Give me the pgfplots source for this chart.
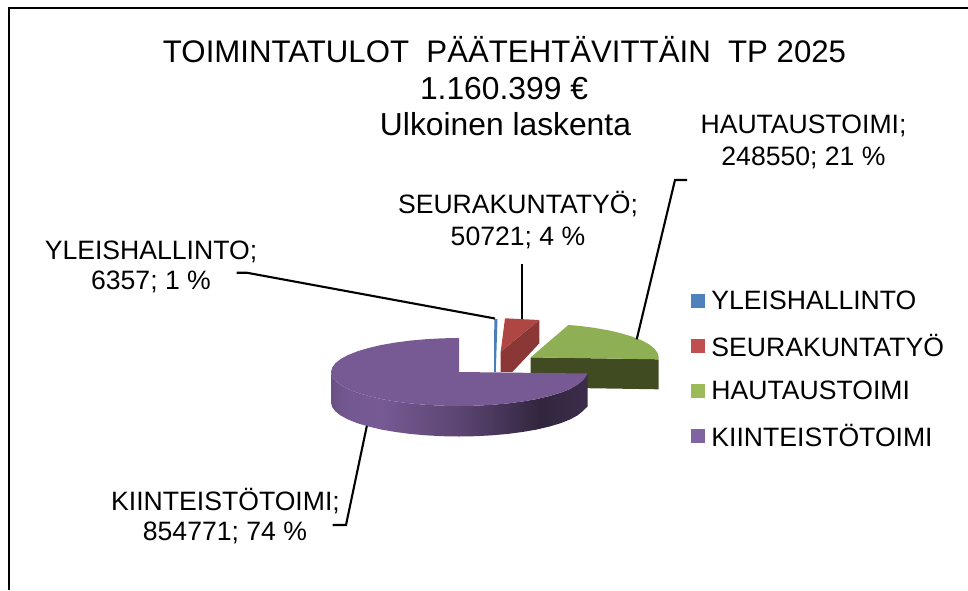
\documentclass[border=0pt]{standalone}
\usepackage{pgfplots}
\pgfplotsset{compat=1.18}
\usepackage{fontspec}
\setmainfont{Liberation Sans}
\definecolor{purpTop}{HTML}{775A94}
\definecolor{greenTop}{HTML}{8FAF54}
\definecolor{greenSide}{HTML}{404B22}
\definecolor{redTop}{HTML}{AE4744}
\definecolor{redSide}{HTML}{8A3735}
\definecolor{blueSl}{HTML}{4A7EBB}
\definecolor{legB}{HTML}{4F81BD}
\definecolor{legR}{HTML}{C0504D}
\definecolor{legG}{HTML}{9BBB59}
\definecolor{legP}{HTML}{8064A2}
\pgfdeclarehorizontalshading{pside}{100bp}{
  color(0bp)=(purpTop!88!black);
  color(25bp)=(purpTop!88!black);
  color(27.7bp)=(purpTop!97!black);
  color(34.6bp)=(purpTop);
  color(49.8bp)=(purpTop!77!black);
  color(57.9bp)=(purpTop!60!black);
  color(65.7bp)=(purpTop!42!black);
  color(75bp)=(purpTop!50!black);
  color(100bp)=(purpTop!50!black)}
\newcommand{\lab}{\fontsize{26.6}{26.6}\selectfont}
\newcommand{\tit}{\fontsize{31.2}{31.2}\selectfont}
\newcommand{\titb}{\fontsize{31.8}{31.8}\selectfont}
\begin{document}
\begin{tikzpicture}
\begin{axis}[
  scale only axis, width=968pt, height=590pt,
  xmin=0, xmax=968, ymin=0, ymax=590, y dir=reverse,
  hide axis,
  legend style={draw=none, fill=none, at={(axis cs:691,291)}, anchor=north west,
    row sep=23pt, font=\lab, inner sep=0pt, outer sep=0pt,
    nodes={inner sep=0pt},
    /tikz/every odd column/.style={column sep=7pt}},
  legend cell align=left,
  legend image code/.code={\fill[#1] (0pt,-6.5pt) rectangle (13pt,6.5pt);},
]
% page extent
\addplot[draw=none, forget plot] coordinates {(0,0) (968,590)};
% frame
\addplot[black, line width=1.8pt, forget plot] coordinates {(9,590) (9,8) (968,8)};
% green slice
\addplot[fill=greenSide, draw=none, forget plot] coordinates {(530.7,357.3) (658.5,359.3) (658.5,389.3) (530.7,387.3)} --cycle;
\addplot[fill=greenTop, draw=none, forget plot] coordinates {(530.7,357.3) (568.3,325) (579.7,325.9) (594.7,327.9) (608.6,330.3) (621.2,333.3) (632.3,336.6) (641.6,340.3) (649,344.3) (654.3,348.5) (657.6,352.9) (658.7,357.3) (658.5,359.3)} --cycle;
% red slice
\addplot[fill=redSide, draw=none, forget plot] coordinates {(500.7,351.7) (539.3,320) (539.3,343.3) (512.3,372) (500.7,372)} --cycle;
\addplot[fill=redTop, draw=none, forget plot] coordinates {(505,318.3) (539.3,320) (500.7,351.7)} --cycle;
% blue slice
\addplot[fill=blueSl, draw=none, forget plot] coordinates {(494.3,319) (497.5,319) (495.8,372) (494,372)} --cycle;
% purple slice
\addplot[shading=pside, draw=none, forget plot] coordinates {
(331,372) (332.1,376.4) (335.4,380.8) (340.7,385) (348.1,389) (357.4,392.7) (368.5,396) (381.1,399) (395,401.4) (410,403.4) (425.9,404.8) (442.3,405.7) (459,406)
(475.7,405.7) (492.1,404.8) (508,403.4) (523,401.4) (536.9,399) (549.5,396) (560.6,392.7) (569.9,389) (577.3,385) (582.6,380.8) (585.9,376.4) (587.5,373.5)
(587.5,406.5) (582.6,411.3) (577.3,415.5) (569.9,419.5) (560.6,423.2) (549.5,426.5) (536.9,429.5) (523,431.9) (508,433.9) (492.1,435.3) (475.7,436.2) (459,436.5)
(442.3,436.2) (425.9,435.3) (410,433.9) (395,431.9) (381.1,429.5) (368.5,426.5) (357.4,423.2) (348.1,419.5) (340.7,415.5) (335.4,411.3) (332.1,406.9) (331,402.5)} --cycle;
\addplot[fill=purpTop, draw=none, forget plot] coordinates {
(459,372) (459,338) (442.3,338.3) (425.9,339.2) (410,340.6) (395,342.6) (381.1,345) (368.5,348) (357.4,351.3) (348.1,355) (340.7,359) (335.4,363.2) (332.1,367.6) (331,372)
(332.1,376.4) (335.4,380.8) (340.7,385) (348.1,389) (357.4,392.7) (368.5,396) (381.1,399) (395,401.4) (410,403.4) (425.9,404.8) (442.3,405.7) (459,406)
(475.7,405.7) (492.1,404.8) (508,403.4) (523,401.4) (536.9,399) (549.5,396) (560.6,392.7) (569.9,389) (577.3,385) (582.6,380.8) (585.9,376.4) (587.5,373.5)} --cycle;
% leader lines
\addplot[black, line width=2.1pt, forget plot] coordinates {(236.7,272.7) (246.7,272.7) (495,318.5)};
\addplot[black, line width=2.1pt, forget plot] coordinates {(521.7,264) (521.7,319)};
\addplot[black, line width=2.1pt, forget plot] coordinates {(687,180) (675,180) (636.7,339.3)};
\addplot[black, line width=2.1pt, forget plot] coordinates {(366.8,426) (346,525) (332.7,525)};
% legend
\addlegendimage{legB}\addlegendentry{YLEISHALLINTO}
\addlegendimage{legR}\addlegendentry{SEURAKUNTATYÖ}
\addlegendimage{legG}\addlegendentry{HAUTAUSTOIMI}
\addlegendimage{legP}\addlegendentry{KIINTEISTÖTOIMI}
% texts
\node[anchor=base, inner sep=0pt] at (axis cs:504.5,62) {\tit TOIMINTATULOT\ \ PÄÄTEHTÄVITTÄIN\ \ TP 2025};
\node[anchor=base, inner sep=0pt] at (axis cs:504,99) {\titb 1.160.399 €};
\node[anchor=base, inner sep=0pt] at (axis cs:505.5,135) {\titb Ulkoinen laskenta};
\node[anchor=base, inner sep=0pt] at (axis cs:151,259) {\lab YLEISHALLINTO;};
\node[anchor=base, inner sep=0pt] at (axis cs:151,289) {\lab 6357; 1 \%};
\node[anchor=base, inner sep=0pt] at (axis cs:518,213) {\lab SEURAKUNTATYÖ;};
\node[anchor=base, inner sep=0pt] at (axis cs:518,245) {\lab 50721; 4 \%};
\node[anchor=base, inner sep=0pt] at (axis cs:803.5,133.5) {\lab HAUTAUSTOIMI;};
\node[anchor=base, inner sep=0pt] at (axis cs:803.5,165) {\lab 248550; 21 \%};
\node[anchor=base, inner sep=0pt] at (axis cs:225.5,510) {\lab KIINTEISTÖTOIMI;};
\node[anchor=base, inner sep=0pt] at (axis cs:225,540) {\lab 854771; 74 \%};
\end{axis}
\end{tikzpicture}
\end{document}
